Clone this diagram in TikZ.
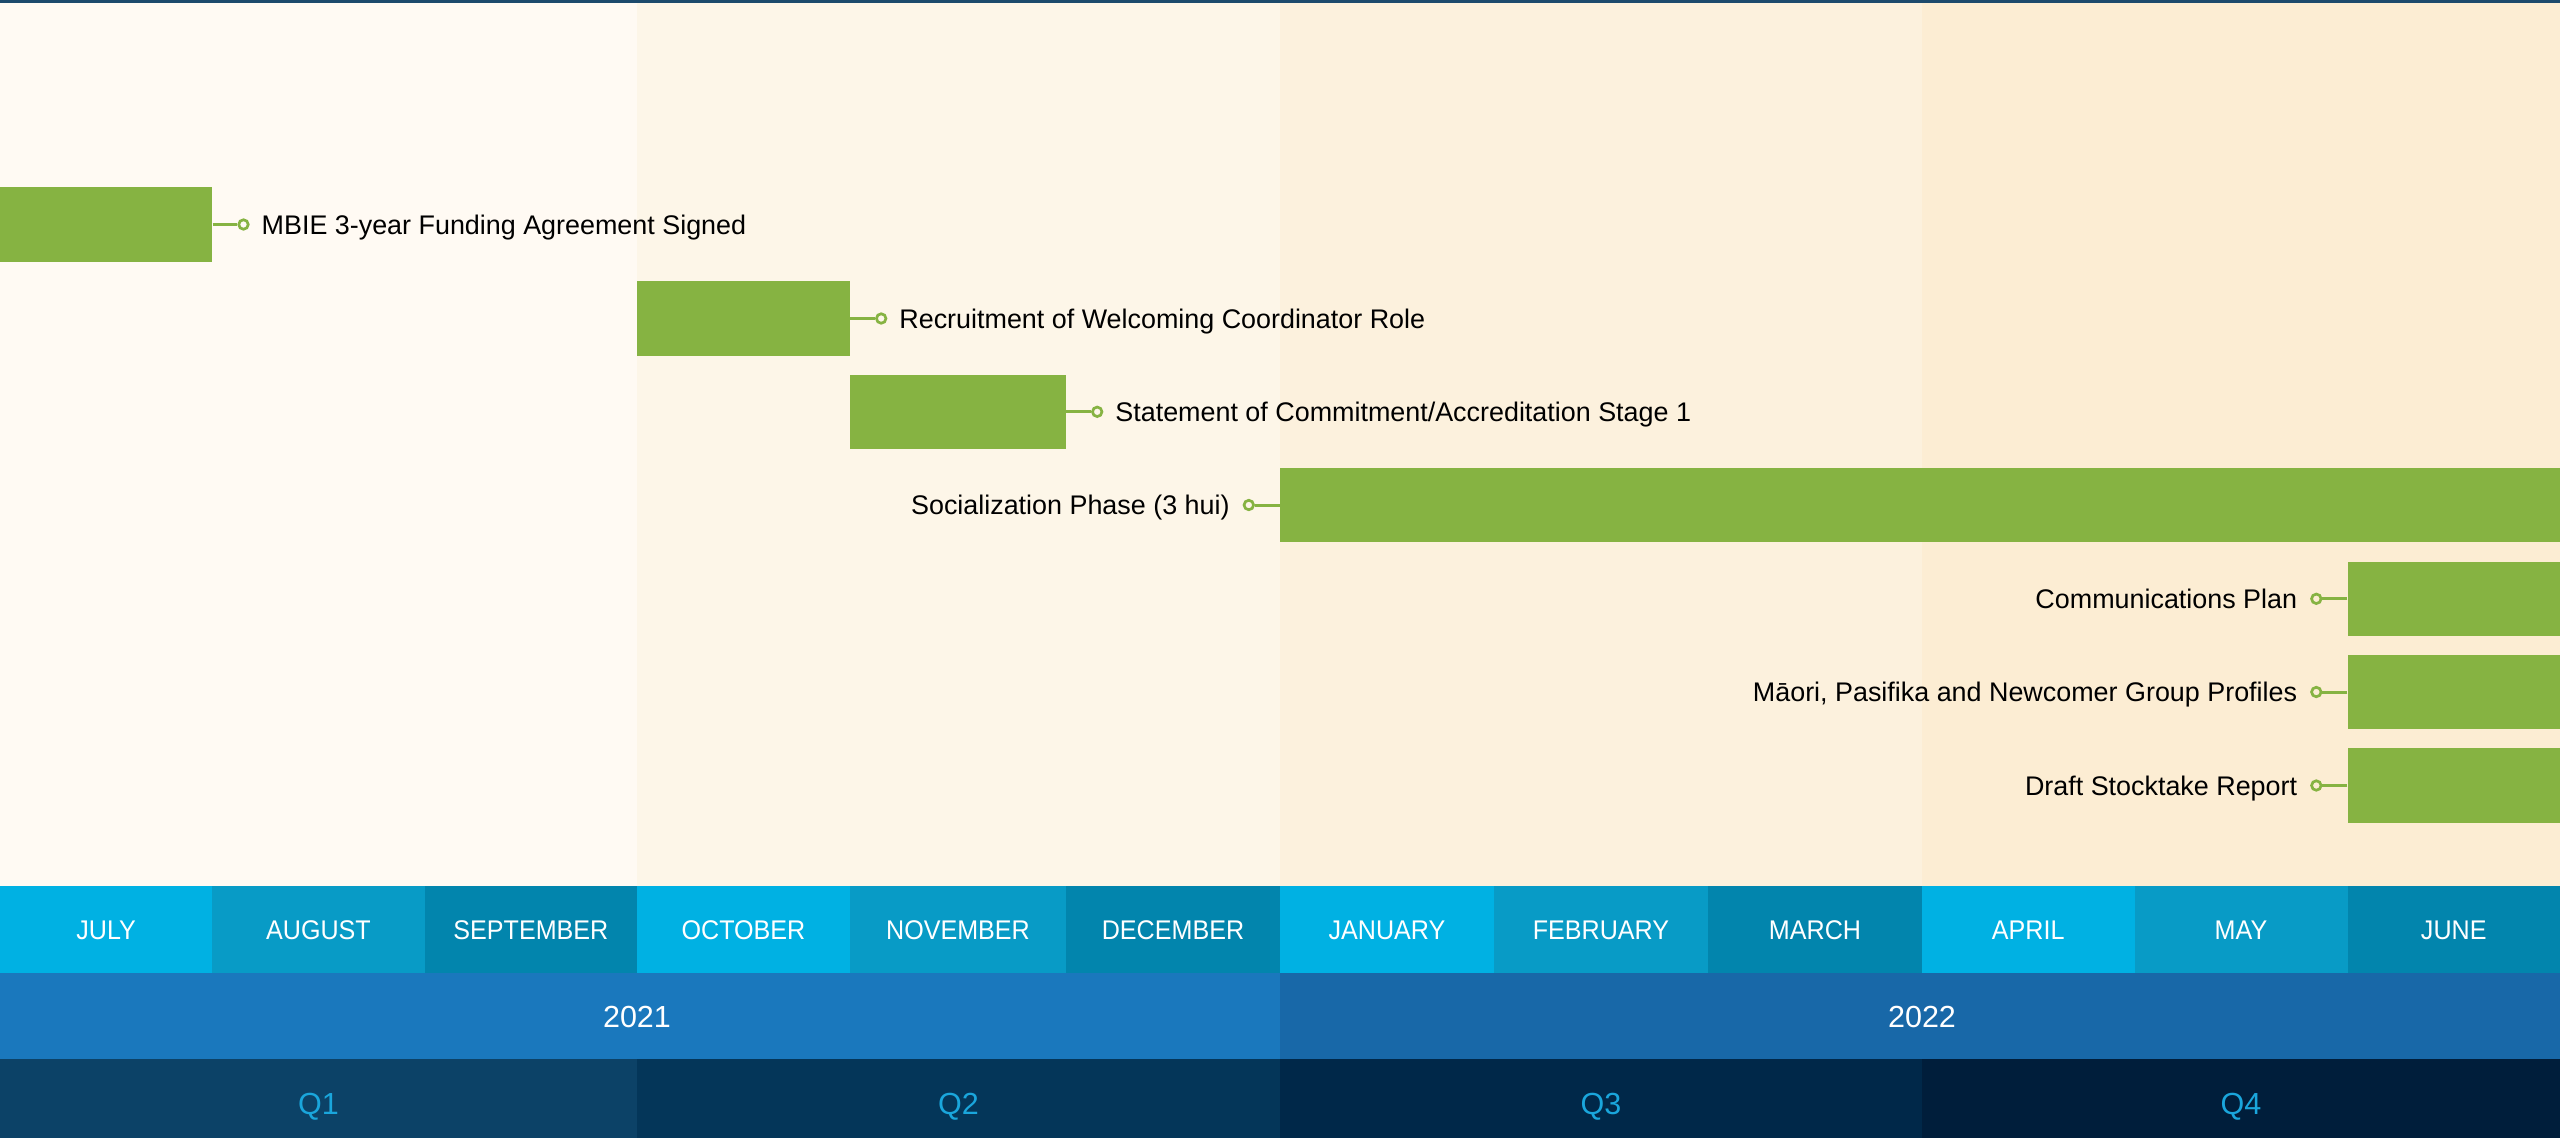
\documentclass[tikz,border=0pt]{standalone}
\usepackage{fontspec}
\setmainfont{Liberation Sans}
\newfontfamily\monthfont[FakeStretch=0.93]{Liberation Sans}
\usetikzlibrary{calc}
\definecolor{bgA}{RGB}{255,250,243}
\definecolor{bgB}{RGB}{253,246,232}
\definecolor{bgC}{RGB}{252,241,221}
\definecolor{bgD}{RGB}{252,237,211}
\definecolor{barg}{RGB}{134,179,66}
\definecolor{mA}{RGB}{0,177,227}
\definecolor{mB}{RGB}{8,155,198}
\definecolor{mC}{RGB}{2,133,173}
\definecolor{yA}{RGB}{26,120,189}
\definecolor{yB}{RGB}{24,104,168}
\definecolor{qA}{RGB}{12,66,103}
\definecolor{qB}{RGB}{4,54,89}
\definecolor{qC}{RGB}{0,40,73}
\definecolor{qD}{RGB}{0,30,59}
\definecolor{qtxt}{RGB}{26,166,220}
\definecolor{topline}{RGB}{28,74,108}
\tikzset{
  bar/.style={rectangle, fill=barg, inner sep=0pt, minimum height=74.5pt},
  dot/.style={circle, draw=barg, line width=2.7pt, fill=#1, minimum size=9.5pt, inner sep=0pt},
  conn/.style={draw=barg, line width=3pt},
  lbl/.style={inner sep=0pt, font=\fontsize{26.9}{30}\selectfont, text=black},
  mlbl/.style={inner sep=0pt, font=\monthfont\fontsize{27}{30}\selectfont, text=white, anchor=base},
  ylbl/.style={inner sep=0pt, font=\fontsize{30.5}{34}\selectfont, text=white, anchor=base},
  qlbl/.style={inner sep=0pt, font=\fontsize{30.5}{34}\selectfont, text=qtxt, anchor=base}
}
\begin{document}
\begin{tikzpicture}[x=1pt,y=-1pt]
\useasboundingbox (0,0) rectangle (2560,1138);
% quarter background columns
\fill[bgA] (0,0) rectangle (637,886);
\fill[bgB] (637,0) rectangle (1280,886);
\fill[bgC] (1280,0) rectangle (1922,886);
\fill[bgD] (1922,0) rectangle (2560,886);
\fill[topline] (0,0) rectangle (2560,2.5);
% month band
\foreach \i/\l/\r/\nm/\c in {0/0/212.3/JULY/mA,1/212.3/424.7/AUGUST/mB,2/424.7/637/SEPTEMBER/mC,3/637/850/OCTOBER/mA,4/850/1066/NOVEMBER/mB,5/1066/1280/DECEMBER/mC,6/1280/1494/JANUARY/mA,7/1494/1708/FEBRUARY/mB,8/1708/1922/MARCH/mC,9/1922/2134.5/APRIL/mA,10/2134.5/2347.5/MAY/mB,11/2347.5/2560/JUNE/mC}{
  \fill[\c] (\l,886) rectangle (\r,973);
  \node[mlbl] (m\i) at ({(\l+\r)/2},939) {\nm};
}
% year band
\fill[yA] (0,973) rectangle (1280,1059);
\fill[yB] (1280,973) rectangle (2560,1059);
\node[ylbl] (y1) at (637,1027) {2021};
\node[ylbl] (y2) at (1922,1027) {2022};
% quarter band
\fill[qA] (0,1059) rectangle (637,1138);
\fill[qB] (637,1059) rectangle (1280,1138);
\fill[qC] (1280,1059) rectangle (1922,1138);
\fill[qD] (1922,1059) rectangle (2560,1138);
\node[qlbl] (q1) at (318.5,1114) {Q1};
\node[qlbl] (q2) at (958.5,1114) {Q2};
\node[qlbl] (q3) at (1601,1114) {Q3};
\node[qlbl] (q4) at (2241,1114) {Q4};
% bars
\node[bar, minimum width=212.3pt] (b1) at (106.15,224.5) {};
\node[bar, minimum width=213pt] (b2) at (743.5,318.5) {};
\node[bar, minimum width=216pt] (b3) at (958,411.8) {};
\node[bar, minimum width=1280pt] (b4) at (1920,505) {};
\node[bar, minimum width=212.5pt] (b5) at (2453.75,598.8) {};
\node[bar, minimum width=212.5pt] (b6) at (2453.75,692) {};
\node[bar, minimum width=212.5pt] (b7) at (2453.75,785.5) {};
% right-side markers
\node[dot=bgA] (c1) at ($(b1.east)+(31,0)$) {};
\node[dot=bgB] (c2) at ($(b2.east)+(31,0)$) {};
\node[dot=bgB] (c3) at ($(b3.east)+(31,0)$) {};
\draw[conn] (b1.east) -- (c1.west);
\draw[conn] (b2.east) -- (c2.west);
\draw[conn] (b3.east) -- (c3.west);
\node[lbl, anchor=base west] (t1) at ($(c1)+(18,9.5)$) {MBIE 3-year Funding Agreement Signed};
\node[lbl, anchor=base west] (t2) at ($(c2)+(18,9.5)$) {Recruitment of Welcoming Coordinator Role};
\node[lbl, anchor=base west] (t3) at ($(c3)+(18,9.5)$) {Statement of Commitment/Accreditation Stage 1};
% left-side markers
\node[dot=bgB] (c4) at ($(b4.west)+(-31,0)$) {};
\node[dot=bgD] (c5) at ($(b5.west)+(-31,0)$) {};
\node[dot=bgD] (c6) at ($(b6.west)+(-31,0)$) {};
\node[dot=bgD] (c7) at ($(b7.west)+(-31,0)$) {};
\draw[conn] (b4.west) -- (c4.east);
\draw[conn] (b5.west) -- (c5.east);
\draw[conn] (b6.west) -- (c6.east);
\draw[conn] (b7.west) -- (c7.east);
\node[lbl, anchor=base east] (t4) at ($(c4)+(-19,9.5)$) {Socialization Phase (3 hui)};
\node[lbl, anchor=base east] (t5) at ($(c5)+(-19,9.5)$) {Communications Plan};
\node[lbl, anchor=base east] (t6) at ($(c6)+(-19,9.5)$) {Māori, Pasifika and Newcomer Group Profiles};
\node[lbl, anchor=base east] (t7) at ($(c7)+(-19,9.5)$) {Draft Stocktake Report};
\end{tikzpicture}
\end{document}
